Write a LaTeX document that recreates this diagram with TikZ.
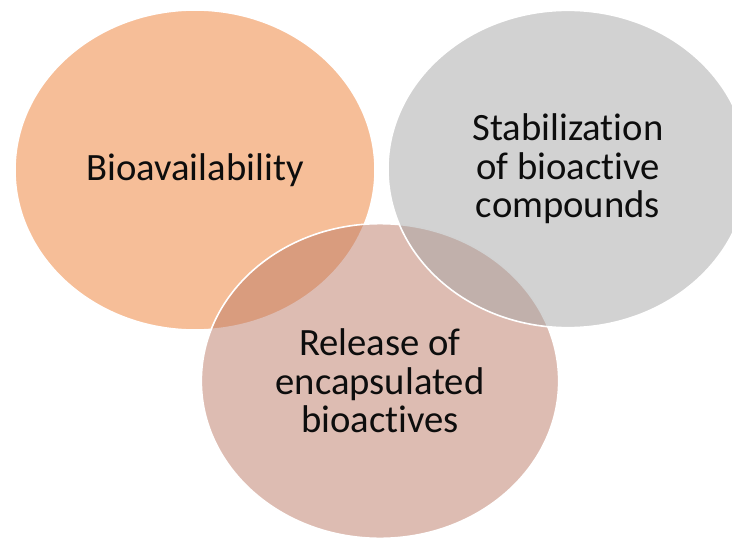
\documentclass[tikz,border=0pt]{standalone}
\usepackage{fontspec}
\setmainfont{Carlito}[Ligatures=NoCommon]
\usetikzlibrary{shapes.geometric}

\definecolor{vennorange}{HTML}{ED7D31}
\definecolor{vennrose}{HTML}{BC7A66}
\definecolor{venngray}{HTML}{A5A5A5}

\tikzset{venn/.style={ellipse, draw=white, line width=1.2pt, fill opacity=0.5, text opacity=1,
  inner sep=0pt, minimum width=270pt, minimum height=240pt, align=center, text=black!95,
  font=\fontsize{29pt}{29pt}\selectfont}}

\begin{document}
\begin{tikzpicture}[x=0.75pt,y=-0.75pt]
\useasboundingbox (0,0) rectangle (732,539);

% three overlapping circles, the last one drawn on top
\node[venn,fill=vennorange] (bio) at (195,170) {Bioavailability};
\node[venn,fill=vennrose,minimum width=268pt,minimum height=236pt] (rel) at (380,381) {Release of\\encapsulated\\bioactives};
\node[venn,fill=venngray,minimum height=238pt] (stab) at (568,169) {Stabilization\\of bioactive\\compounds};

\end{tikzpicture}
\end{document}
